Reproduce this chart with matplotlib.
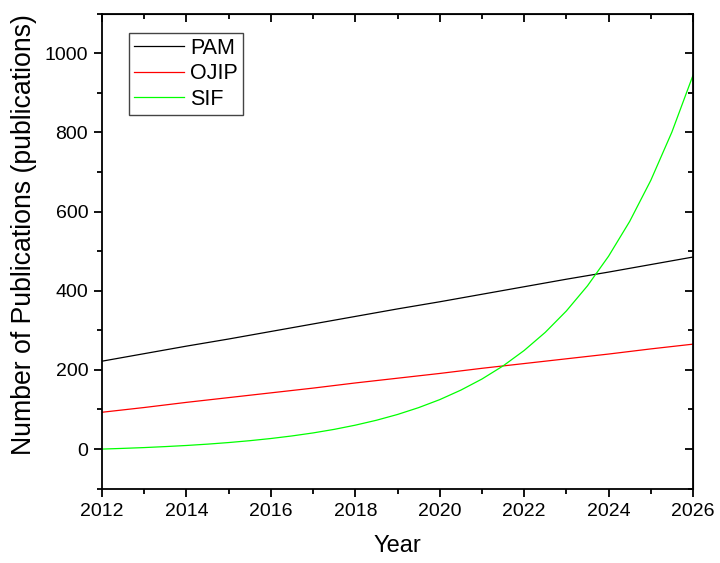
"""Publication trends for chlorophyll fluorescence methods (PAM, OJIP, SIF)."""

import matplotlib
matplotlib.use("Agg")
import matplotlib.pyplot as plt
from matplotlib.ticker import MultipleLocator

plt.rcParams["font.family"] = ["Liberation Sans", "DejaVu Sans"]

# ── Data ──────────────────────────────────────────────────────────────────────
years_pam = [2012, 2013, 2014, 2015, 2016, 2017, 2018, 2019,
             2020, 2021, 2022, 2023, 2024, 2025, 2026]
pam  = [222, 241, 260, 278, 297, 316, 335, 354,
        372, 391, 410, 429, 447, 466, 485]
ojip = [93, 105, 118, 130, 142, 154, 167, 179,
        191, 204, 216, 228, 240, 253, 265]

years_sif = [2012.0, 2012.5, 2013.0, 2013.5, 2014.0, 2014.5, 2015.0, 2015.5,
             2016.0, 2016.5, 2017.0, 2017.5, 2018.0, 2018.5, 2019.0, 2019.5,
             2020.0, 2020.5, 2021.0, 2021.5, 2022.0, 2022.5, 2023.0, 2023.5,
             2024.0, 2024.5, 2025.0, 2025.5, 2026.0]
sif = [0, 1.8, 3.8, 6.3, 9.1, 12.5, 16.5, 21.2,
       26.7, 33.2, 40.8, 49.8, 60.4, 72.8, 87.4, 104.7,
       124.9, 148.9, 176.9, 210.0, 249.0, 294.8, 348.8, 412.3,
       487.1, 575.0, 678.6, 800.6, 944.0]

# ── Plot ──────────────────────────────────────────────────────────────────────
fig = plt.figure(figsize=(7.2, 5.63), dpi=100)
ax = fig.add_axes([0.1417, 0.132, 0.8208, 0.844])

ax.plot(years_pam, pam,  color="black",   lw=0.9, label="PAM")
ax.plot(years_pam, ojip, color="#FF0000", lw=0.9, label="OJIP")
ax.plot(years_sif, sif,  color="#00FF00", lw=0.9, label="SIF")

ax.set_xlim(2012, 2026)
ax.set_ylim(-100, 1100)
ax.xaxis.set_major_locator(MultipleLocator(2))
ax.xaxis.set_minor_locator(MultipleLocator(1))
ax.yaxis.set_major_locator(MultipleLocator(200))
ax.yaxis.set_minor_locator(MultipleLocator(100))

for spine in ax.spines.values():
    spine.set_linewidth(1.3)

ax.tick_params(which="major", direction="out", length=6, width=1.3,
               labelsize=14, pad=4)
ax.tick_params(which="minor", direction="out", length=3.5, width=1.3)

# inward ticks on the top and right, no labels
top = ax.secondary_xaxis("top")
top.xaxis.set_major_locator(MultipleLocator(2))
top.xaxis.set_minor_locator(MultipleLocator(1))
top.tick_params(which="major", direction="in", length=6, width=1.3, labeltop=False)
top.tick_params(which="minor", direction="in", length=3.5, width=1.3)
right = ax.secondary_yaxis("right")
right.yaxis.set_major_locator(MultipleLocator(200))
right.yaxis.set_minor_locator(MultipleLocator(100))
right.tick_params(which="major", direction="in", length=6, width=1.3, labelright=False)
right.tick_params(which="minor", direction="in", length=3.5, width=1.3)

ax.set_xlabel("Year", fontsize=17)
ax.set_ylabel("Number of Publications (publications)", fontsize=19.2)
ax.xaxis.set_label_coords(0.5, -0.098)
ax.yaxis.set_label_coords(-0.11, 0.535)

leg = ax.legend(loc="upper left", bbox_to_anchor=(0.045, 0.96), borderaxespad=0,
                fontsize=15.5, frameon=True, fancybox=False, framealpha=1,
                edgecolor="#444444", handlelength=2.3, handletextpad=0.3,
                labelspacing=0.2, borderpad=0.25)
leg.get_frame().set_linewidth(1.0)

fig.savefig("out.png", dpi=100)
